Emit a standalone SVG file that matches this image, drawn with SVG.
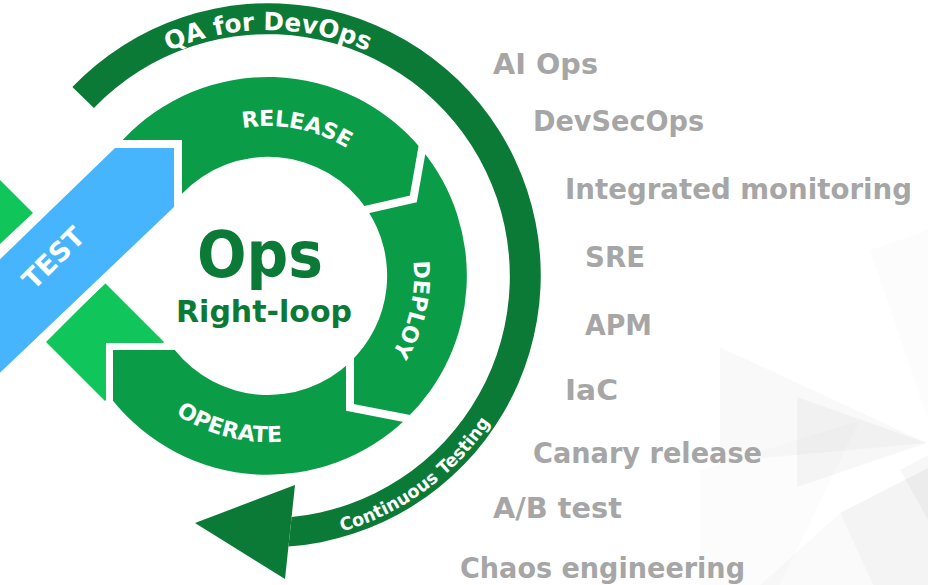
<svg xmlns="http://www.w3.org/2000/svg" xmlns:xlink="http://www.w3.org/1999/xlink" width="928" height="585" viewBox="0 0 928 585">
  <style>
    .ring { fill: #0b9c47; }
    .bright { fill: #10c55a; }
    .wt { fill: #ffffff; font-family: "DejaVu Sans", Verdana, sans-serif; font-weight: bold; }
    .gray { fill: #a6a6a6; font-family: "DejaVu Sans", Verdana, sans-serif; font-weight: bold; font-size: 28px; }
    .ops { fill: #0b7a36; font-family: "DejaVu Sans", Verdana, sans-serif; font-weight: bold; text-anchor: middle; }
    .gap { fill: none; stroke: #ffffff; stroke-width: 8; stroke-linejoin: miter; }
  </style>
  <defs>
    <path id="pQA" d="M 22,276 A 246 246 0 0 1 514,276"/>
    <path id="pCT" d="M 221.8,538 A 266 266 0 0 0 530,322.2"/>
    <path id="pRel" d="M 118,276 A 150 150 0 0 1 418,276"/>
    <path id="pDep" d="M 268,130 A 146 146 0 0 1 268,422"/>
    <path id="pOpe" d="M 102,276 A 166 166 0 0 0 434,276"/>
  </defs>

  <rect width="928" height="585" fill="#ffffff"/>

  <g id="background" fill="#000000">
    <polygon points="870,250 928,230 928,420" opacity="0.012"/>
    <polygon points="720,347 927,443 720,462" opacity="0.025"/>
    <polygon points="797,397 927,443 797,487" opacity="0.03"/>
    <polygon points="700,470 860,420 780,585 700,585" opacity="0.012"/>
    <polygon points="840,513 928,468 928,585 873,585" opacity="0.045"/>
    <polygon points="760,585 840,513 873,585" opacity="0.02"/>
    <polygon points="900,470 928,455 928,520" opacity="0.03"/>
  </g>

  <g id="left-loop">
    <polygon class="bright" points="0,180 33,213 0,244"/>
    <polygon class="bright" points="105,283 46,342 105,401 164,342"/>
  </g>

  <g id="release">
    <path class="ring" d="M 122.7,140 L 182,140 L 182,193.8 A 119 119 0 0 1 367,209.6 L 413.3,199 L 422,149.9 A 199 199 0 0 0 122.7,140 Z"/>
    <text class="wt" font-size="22"><textPath xlink:href="#pRel" startOffset="264.4" text-anchor="middle">RELEASE</textPath></text>
  </g>

  <g id="operate">
    <path class="ring" stroke="#ffffff" stroke-width="14" paint-order="stroke" d="M 350,362.2 L 350,407.5 L 406.5,418.5 A 199 199 0 0 1 113,400.8 L 113,350 L 174.8,350 A 119 119 0 0 0 350,362.2 Z"/>
    <text class="wt" font-size="22"><textPath xlink:href="#pOpe" startOffset="218.8" text-anchor="middle">OPERATE</textPath></text>
  </g>

  <g id="deploy">
    <path class="ring" d="M 422,149.9 L 413.3,199 L 367,209.6 A 119 119 0 0 1 350,362.2 L 350,407.5 L 406.5,418.5 A 199 199 0 0 0 422,149.9 Z"/>
    <text class="wt" font-size="22"><textPath xlink:href="#pDep" startOffset="262.4" text-anchor="middle">DEPLOY</textPath></text>
  </g>

  <g id="segment-gaps">
    <polyline class="gap" points="423.7,140 413.3,199 361,210.9"/>
    <polyline class="gap" points="350,354 350,407.5 413.4,419.8"/>
  </g>

  <g id="test">
    <polygon fill="#46b5fd" stroke="#ffffff" stroke-width="16" paint-order="stroke" stroke-linejoin="miter" points="115,148 174,148 174,207 -40,411 -40,298"/>
    <text class="wt" font-size="27" text-anchor="middle" transform="translate(60,264.6) rotate(-45)">TEST</text>
  </g>

  <g id="center-label">
    <text class="ops" x="260" y="277" font-size="64" textLength="126" lengthAdjust="spacingAndGlyphs">Ops</text>
    <text class="ops" x="264" y="322" font-size="30" textLength="176" lengthAdjust="spacingAndGlyphs">Right-loop</text>
  </g>

  <g id="connectors">
    <g id="qa-for-devops-arrow" fill="#0b7a36">
      <path d="M 72.35,87.04 A 272 272 0 1 1 288.5,546.5 L 291.6,517 A 242 242 0 1 0 93.93,107.88 Z"/>
      <polygon points="295,485 195,523 285,579"/>
    </g>
    <text class="wt" font-size="25"><textPath xlink:href="#pQA" startOffset="50%" text-anchor="middle" textLength="205" lengthAdjust="spacingAndGlyphs">QA for DevOps</textPath></text>
    <text class="wt" font-size="18"><textPath xlink:href="#pCT" startOffset="215.4" text-anchor="middle" textLength="188" lengthAdjust="spacingAndGlyphs">Continuous Testing</textPath></text>
  </g>

  <g id="practices">
    <text id="ai-ops" class="gray" x="493" y="74" textLength="105" lengthAdjust="spacingAndGlyphs">AI Ops</text>
    <text id="devsecops" class="gray" x="533" y="131" textLength="171" lengthAdjust="spacingAndGlyphs">DevSecOps</text>
    <text id="integrated-monitoring" class="gray" x="565" y="199" textLength="347" lengthAdjust="spacingAndGlyphs">Integrated monitoring</text>
    <text id="sre" class="gray" x="585" y="267" textLength="60" lengthAdjust="spacingAndGlyphs">SRE</text>
    <text id="apm" class="gray" x="585" y="335" textLength="67" lengthAdjust="spacingAndGlyphs">APM</text>
    <text id="iac" class="gray" x="565" y="400" textLength="53" lengthAdjust="spacingAndGlyphs">IaC</text>
    <text id="canary-release" class="gray" x="533" y="463" textLength="229" lengthAdjust="spacingAndGlyphs">Canary release</text>
    <text id="ab-test" class="gray" x="493" y="518" textLength="129" lengthAdjust="spacingAndGlyphs">A/B test</text>
    <text id="chaos-engineering" class="gray" x="460" y="578" textLength="285" lengthAdjust="spacingAndGlyphs">Chaos engineering</text>
  </g>
</svg>
